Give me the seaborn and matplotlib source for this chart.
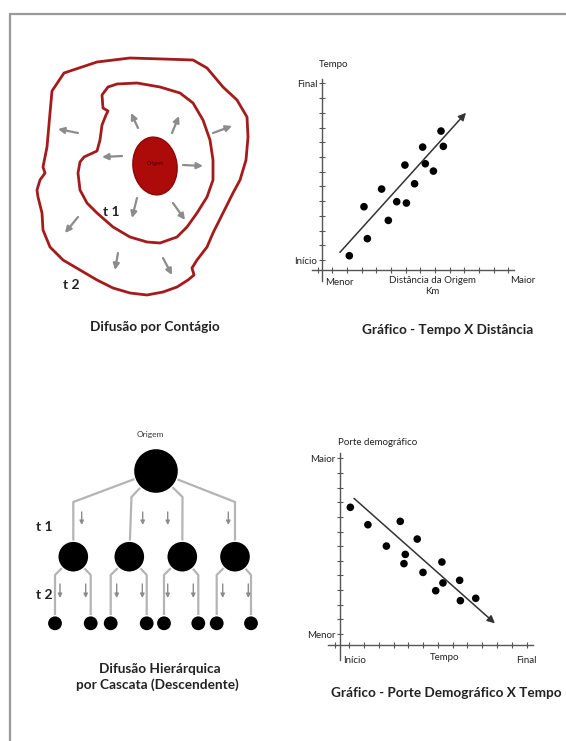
import numpy as np
import pandas as pd
import matplotlib
matplotlib.use('Agg')
import matplotlib.pyplot as plt
from matplotlib.patches import Ellipse, Circle, Polygon
import seaborn as sns

sns.set_theme(style='white')
plt.rcParams['font.family'] = ['Lato', 'DejaVu Sans']

W, H = 566, 741

# --- data: scatter "Tempo X Distância" (units = tick steps) ---
dist_x = [1.16, 2.39, 2.16, 3.36, 3.82, 4.39, 5.05, 4.95, 5.61, 6.16, 6.34, 6.89, 7.41, 7.57]
tempo_y = [0.29, 1.45, 3.62, 4.82, 2.69, 3.96, 3.87, 6.45, 5.18, 7.67, 6.54, 6.04, 8.76, 7.72]
trend1 = [(0.52, 0.52), (9.11, 10.0)]

# --- data: scatter "Porte Demográfico X Tempo" ---
tempo_x = [0.07, 1.26, 2.51, 3.45, 3.79, 3.70, 4.60, 4.99, 6.27, 6.34, 5.85, 7.47, 7.52, 8.56]
porte_y = [8.66, 7.47, 6.01, 7.70, 5.44, 4.81, 6.49, 4.21, 4.92, 3.49, 2.96, 3.67, 2.28, 2.44]
trend2 = [(0.32, 9.27), (9.86, 0.73)]

# --- contagion diagram (pixel coords) ---
outer_t2 = [(52, 91), (64, 73), (97, 62), (130, 58), (163, 59), (193, 60), (207, 68), (223, 87),
            (237, 100), (247, 117), (248, 137), (246, 160), (240, 180), (233, 193), (223, 213),
            (213, 233), (207, 247), (197, 260), (192, 268), (194, 275), (188, 280), (177, 287),
            (163, 292), (147, 295), (130, 293), (113, 288), (97, 280), (80, 270), (63, 260),
            (50, 247), (43, 230), (42, 213), (38, 197), (37, 190), (40, 180), (45, 173),
            (43, 167), (47, 147), (50, 113)]
inner_t1 = [(108, 87), (117, 84), (137, 83), (160, 87), (180, 93), (193, 103), (203, 120),
            (210, 140), (213, 160), (213, 180), (207, 197), (197, 213), (187, 227), (177, 237),
            (160, 243), (147, 242), (130, 237), (113, 227), (97, 213), (87, 203), (80, 190),
            (78, 173), (80, 162), (84, 157), (97, 151), (100, 140), (102, 125), (106, 115),
            (108, 111), (103, 108), (102, 95)]
spread_arrows = [((78, 133), (58, 129)), ((138, 128), (131, 113)), ((172, 133), (179, 116)),
                 ((213, 133), (232, 126)), ((122, 156), (102, 157)), ((183, 165), (203, 166)),
                 ((137, 198), (132, 218)), ((173, 203), (185, 220)), ((78, 217), (65, 233)),
                 ((118, 253), (115, 270)), ((163, 258), (172, 275))]

# --- hierarchy diagram (pixel coords) ---
top_node = (156, 471)
lvl1_x = [73.3, 129.3, 182.3, 235.0]
lvl1_bend = [(73.3, 502), (131.5, 497), (182.5, 497), (235, 502)]
lvl2_x = [55, 90.7, 110.7, 146.7, 164, 198.3, 216.7, 251]
lvl1_arrow_x = [81.7, 142.7, 167.7, 228.3]
lvl2_arrow_x = [60, 85.7, 116.7, 142.3, 167.7, 193.3, 222.7, 248.3]

fig = plt.figure(figsize=(W / 100, H / 100), dpi=100)
fig.patch.set_facecolor('white')

bg = fig.add_axes([0, 0, 1, 1])
bg.set_xlim(0, W)
bg.set_ylim(H, 0)
bg.axis('off')

# frame (top + left)
bg.plot([10, W], [14, 14], color='#9a9a9a', lw=1.6)
bg.plot([10, 10], [14, H], color='#9a9a9a', lw=1.6)

title_fs = 9.8
small_fs = 7

red = '#a31b1b'
bg.add_patch(Polygon(outer_t2, closed=True, fill=False, ec=red, lw=2, joinstyle='round'))
bg.add_patch(Polygon(inner_t1, closed=True, fill=False, ec=red, lw=2, joinstyle='round'))
bg.add_patch(Ellipse((155, 166), 44, 58, angle=-8, fc='#ad0a0a', ec='#8c0808', lw=1))
bg.text(155, 163, 'Origem', fontsize=3.8, color='#4a0000', ha='center', va='center')
for (x0, y0), (x1, y1) in spread_arrows:
    bg.annotate('', xy=(x1, y1), xytext=(x0, y0),
                arrowprops=dict(arrowstyle='-|>', color='#8c8c8c', lw=1.6, mutation_scale=9,
                                shrinkA=0, shrinkB=0))
bg.text(111.5, 212, 't 1', fontsize=10, fontweight='bold', color='#222', ha='center', va='center')
bg.text(71.5, 285, 't 2', fontsize=10, fontweight='bold', color='#222', ha='center', va='center')
bg.text(155, 327, 'Difusão por Contágio', fontsize=title_fs, fontweight='bold', color='#222',
        ha='center', va='center')

# hierarchy
line_c = '#b4b4b4'
for (bx, by), cx in zip(lvl1_bend, lvl1_x):
    bg.plot([top_node[0], bx, cx], [top_node[1], by, 556.7], color=line_c, lw=1.6, zorder=1)
for i, cx in enumerate(lvl1_x):
    for cx2 in lvl2_x[2 * i:2 * i + 2]:
        bg.plot([cx, cx2, cx2], [556.7, 575, 623.3], color=line_c, lw=1.6, zorder=1)
bg.add_patch(Circle(top_node, 22.5, fc='black', zorder=3))
for cx in lvl1_x:
    bg.add_patch(Circle((cx, 556.7), 15.5, fc='black', zorder=3))
for cx in lvl2_x:
    bg.add_patch(Circle((cx, 623.3), 7.6, fc='black', zorder=3))
for ax_x in lvl1_arrow_x:
    bg.annotate('', xy=(ax_x, 525), xytext=(ax_x, 512),
                arrowprops=dict(arrowstyle='-|>', color='#8c8c8c', lw=1, mutation_scale=6,
                                shrinkA=0, shrinkB=0))
for ax_x in lvl2_arrow_x:
    bg.annotate('', xy=(ax_x, 598), xytext=(ax_x, 584),
                arrowprops=dict(arrowstyle='-|>', color='#8c8c8c', lw=1, mutation_scale=6,
                                shrinkA=0, shrinkB=0))
bg.text(150, 434, 'Origem', fontsize=6, color='#333', ha='center', va='center')
bg.text(44, 527, 't 1', fontsize=10, fontweight='bold', color='#222', ha='center', va='center')
bg.text(44, 595, 't 2', fontsize=10, fontweight='bold', color='#222', ha='center', va='center')
bg.text(159.5, 669, 'Difusão Hierárquica', fontsize=title_fs, fontweight='bold', color='#222',
        ha='center', va='center')
bg.text(157.5, 685, 'por Cascata (Descendente)', fontsize=title_fs, fontweight='bold',
        color='#222', ha='center', va='center')


def unit_axes(px0, py0, ux, uy, xr, yr):
    left = px0 + xr[0] * ux
    right = px0 + xr[1] * ux
    top = py0 - yr[1] * uy
    bottom = py0 - yr[0] * uy
    ax = fig.add_axes([left / W, 1 - bottom / H, (right - left) / W, (bottom - top) / H])
    ax.set_xlim(*xr)
    ax.set_ylim(*yr)
    ax.patch.set_alpha(0)
    return ax


def style_axes(ax, cross_x, cross_y, xb, yb, ylabels):
    for s in ['top', 'right']:
        ax.spines[s].set_visible(False)
    ax.spines['left'].set_position(('data', cross_x))
    ax.spines['bottom'].set_position(('data', cross_y))
    ax.spines['left'].set_bounds(*yb)
    ax.spines['bottom'].set_bounds(*xb)
    for s in ['left', 'bottom']:
        ax.spines[s].set_color('#555')
        ax.spines[s].set_linewidth(1)
    ax.set_xticks(range(-1, 13))
    ax.set_xticklabels([''] * 14)
    ax.set_yticks(range(13))
    ax.set_yticklabels(ylabels)
    ax.tick_params(left=True, bottom=True, direction='inout', length=4, width=0.8,
                   color='#555', labelsize=small_fs, labelcolor='#222', pad=1.5)
    ax.set_xlabel('')
    ax.set_ylabel('')


# chart 1: Tempo X Distância
ax1 = unit_axes(332.3, 260, 14.67, 14.72, (-2, 14.5), (-2.5, 14))
df1 = pd.DataFrame({'dist': dist_x, 'tempo': tempo_y})
sns.scatterplot(data=df1, x='dist', y='tempo', ax=ax1, color='black', s=30, edgecolor='none', zorder=3)
style_axes(ax1, -0.68, -0.68, (-1.4, 12.4), (-1.4, 12.3), ['Início'] + [''] * 11 + ['Final'])
ax1.annotate('', xy=trend1[1], xytext=trend1[0],
             arrowprops=dict(arrowstyle='-|>', color='#333', lw=1.1, mutation_scale=11,
                             shrinkA=0, shrinkB=0))
ax1.text(-0.89, 13.25, 'Tempo', fontsize=small_fs, color='#222', va='center')
ax1.text(0.46, -1.5, 'Menor', fontsize=small_fs, color='#222', ha='center', va='center')
ax1.text(6.8, -1.75, 'Distância da Origem\nKm', fontsize=small_fs, color='#222', ha='center',
         va='center', linespacing=1.3)
ax1.text(13.0, -1.4, 'Maior', fontsize=small_fs, color='#222', ha='center', va='center')
ax1.text(7.89, -4.76, 'Gráfico - Tempo X Distância', fontsize=title_fs, fontweight='bold',
         color='#222', ha='center', va='center', clip_on=False)

# chart 2: Porte Demográfico X Tempo
ax2 = unit_axes(349.3, 634, 14.77, 14.63, (-2, 14), (-2.5, 14))
df2 = pd.DataFrame({'tempo': tempo_x, 'porte': porte_y})
sns.scatterplot(data=df2, x='tempo', y='porte', ax=ax2, color='black', s=30, edgecolor='none', zorder=3)
style_axes(ax2, -0.63, -0.75, (-1.42, 12.46), (-1.78, 12.35), ['Menor'] + [''] * 11 + ['Maior'])
ax2.annotate('', xy=trend2[1], xytext=trend2[0],
             arrowprops=dict(arrowstyle='-|>', color='#333', lw=1.1, mutation_scale=11,
                             shrinkA=0, shrinkB=0))
ax2.text(-0.77, 13.06, 'Porte demográfico', fontsize=small_fs, color='#222', va='center')
ax2.text(0.38, -1.78, 'Início', fontsize=small_fs, color='#222', ha='center', va='center')
ax2.text(6.48, -1.64, 'Tempo', fontsize=small_fs, color='#222', ha='center', va='center')
ax2.text(12.0, -1.78, 'Final', fontsize=small_fs, color='#222', ha='center', va='center')
ax2.text(6.58, -4.03, 'Gráfico - Porte Demográfico X Tempo', fontsize=title_fs, fontweight='bold',
         color='#222', ha='center', va='center', clip_on=False)

fig.savefig('out.png', dpi=100, facecolor='white')
